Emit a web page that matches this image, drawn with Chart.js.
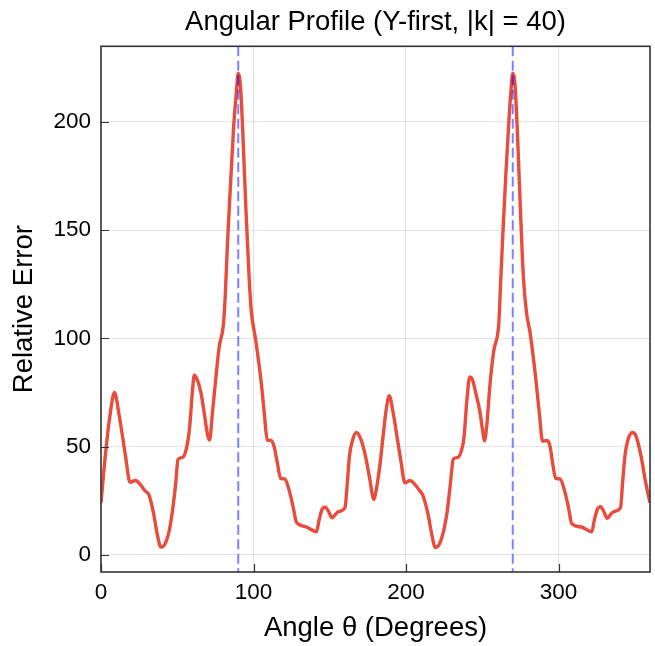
<!DOCTYPE html>
<html><head><meta charset="utf-8">
<script src="https://cdn.jsdelivr.net/npm/chart.js@4/dist/chart.umd.min.js"></script>
<style>html,body{margin:0;padding:0;background:#fff}</style>
</head><body>
<canvas id="c" width="655" height="646"></canvas>
<script>
// ---- data ----
const angles = [0,3,6,8.8,12,16,19,22.5,26,28.5,31.5,34.5,37,39.3,42,45,47,49,50.5,53.5,56,58,60,61.2,63,65.5,68,70,71.2,73,75.5,77.5,80.3,81.5,83,85,87,89,90,91.5,93,95,97,98.5,101.5,105,107,109,111.5,113.5,115.5,117.8,120.5,123.5,126,128.2,134,141.3,143,145,147,149,151.5,153.5,156,160,161.5,163,165,167.5,170,173,176,179,
180.5,183,185,187,189,191.5,194,196.5,199.3,202.5,206,208.5,211,214.5,217,219.2,222,225,227,229,231,234,236.5,238,240,241.8,243.5,246,248.5,250.5,251.4,253,255,257.5,260.9,262,263.5,265.5,267.5,269,270,271.5,273,275,277,279,281.5,285,287.5,289.5,292.5,294.5,296,298.2,301,304,306.5,308.6,315,321.8,323.5,325.5,327.5,329.5,332,334,336.5,340.7,342,343.7,345.5,348.5,351,354,357,360];
const relError = [24,47,65,75,64,46,33.5,34.3,32.3,29.8,27.5,19,9,3.5,5,12,21,33,44,45,49,58,76,83,81,75,64,55,53,65,83,96,106.6,120,145,172,198,216,222.5,216,195,160,130,113,99,80,66,53,52.8,50,43,35.3,35,29.5,22,15,13,10.6,16,21,22,20.3,17,18.5,20,21.8,33,46,53,56.5,54,47,36,25.5,
30,42,55,67,73.5,66,55,44,33.2,34.3,32.4,30,27.5,18.5,9,3.3,5,12,20,32,44.2,45,48.5,54,72,82.2,81,74,66,56,52.6,60,78,94,107.4,125,148,176,201,216,222.5,217,196,160,128,112,102,82,65,52.5,52.8,50,43,35.3,35,29.5,22,14.5,12.8,10.6,16,21,22.2,20.3,16.8,18.5,20,21.8,33,46.5,53,56.5,54.5,46,34,24];
const markerAngles = [90, 270];
const xTicks = [0, 100, 200, 300];
const yTicks = [0, 50, 100, 150, 200];
const xRange = [0, 360];
const yRange = [-8, 235];

const FONT = "'Liberation Sans', Arial, Helvetica, sans-serif";

const curve = angles.map((a, i) => ({x: a, y: relError[i]}));
const markerSets = markerAngles.map(a => ({
  data: [{x: a, y: yRange[1]}, {x: a, y: yRange[0]}],
  borderColor: 'rgba(0,0,255,0.5)',
  borderWidth: 2,
  borderDash: [10, 4.5],
  pointRadius: 0,
  fill: false,
  tension: 0,
  order: 0
}));

const framePlugin = {
  id: 'frame',
  afterDraw(chart) {
    const {ctx, chartArea: a, scales} = chart;
    ctx.save();
    ctx.strokeStyle = '#333';
    ctx.lineWidth = 1.2;
    const L = 8;
    ctx.beginPath();
    scales.x.ticks.forEach(t => {
      const px = Math.round(scales.x.getPixelForValue(t.value)) + 0.5;
      ctx.moveTo(px, a.bottom); ctx.lineTo(px, a.bottom - L);
    });
    scales.y.ticks.forEach(t => {
      const py = Math.round(scales.y.getPixelForValue(t.value)) + 0.5;
      ctx.moveTo(a.left, py); ctx.lineTo(a.left + L, py);
    });
    ctx.stroke();
    ctx.lineWidth = 1.6;
    ctx.strokeRect(a.left, a.top, a.right - a.left, a.bottom - a.top);
    ctx.restore();
  }
};

new Chart(document.getElementById('c'), {
  type: 'line',
  data: {
    datasets: [
      ...markerSets,
      {
        data: curve,
        borderColor: '#e74c3c',
        borderWidth: 3.4,
        pointRadius: 0,
        fill: false,
        cubicInterpolationMode: 'monotone',
        order: 1
      }
    ]
  },
  options: {
    responsive: false,
    animation: false,
    layout: {padding: {left: 0, right: 5, top: 0, bottom: 0}},
    plugins: {
      legend: {display: false},
      tooltip: {enabled: false},
      title: {
        display: true,
        text: 'Angular Profile (Y-first, |k| = 40)',
        fullSize: false,
        color: '#000',
        font: {family: FONT, size: 27.5, weight: 'normal'},
        padding: {top: 6, bottom: 7.3}
      }
    },
    scales: {
      x: {
        type: 'linear',
        min: xRange[0], max: xRange[1],
        afterBuildTicks: s => { s.ticks = xTicks.map(v => ({value: v})); },
        afterFit: s => { s.height = 74; },
        grid: {color: 'rgba(0,0,0,0.11)', lineWidth: 1.1, drawTicks: false},
        border: {display: false},
        ticks: {color: '#000', font: {family: FONT, size: 22.5}, padding: 7, maxRotation: 0},
        title: {display: true, text: 'Angle θ (Degrees)', color: '#000',
                font: {family: FONT, size: 27.5}, padding: {top: 1, bottom: 1}}
      },
      y: {
        type: 'linear',
        min: yRange[0], max: yRange[1],
        afterBuildTicks: s => { s.ticks = yTicks.map(v => ({value: v})); },
        afterFit: s => { s.width = 101; },
        grid: {color: 'rgba(0,0,0,0.11)', lineWidth: 1.1, drawTicks: false},
        border: {display: false},
        ticks: {color: '#000', font: {family: FONT, size: 22.5}, padding: 10},
        title: {display: true, text: 'Relative Error', color: '#000',
                font: {family: FONT, size: 27.5}, padding: {top: 8, bottom: 8}}
      }
    }
  },
  plugins: [framePlugin]
});
</script>
</body></html>
